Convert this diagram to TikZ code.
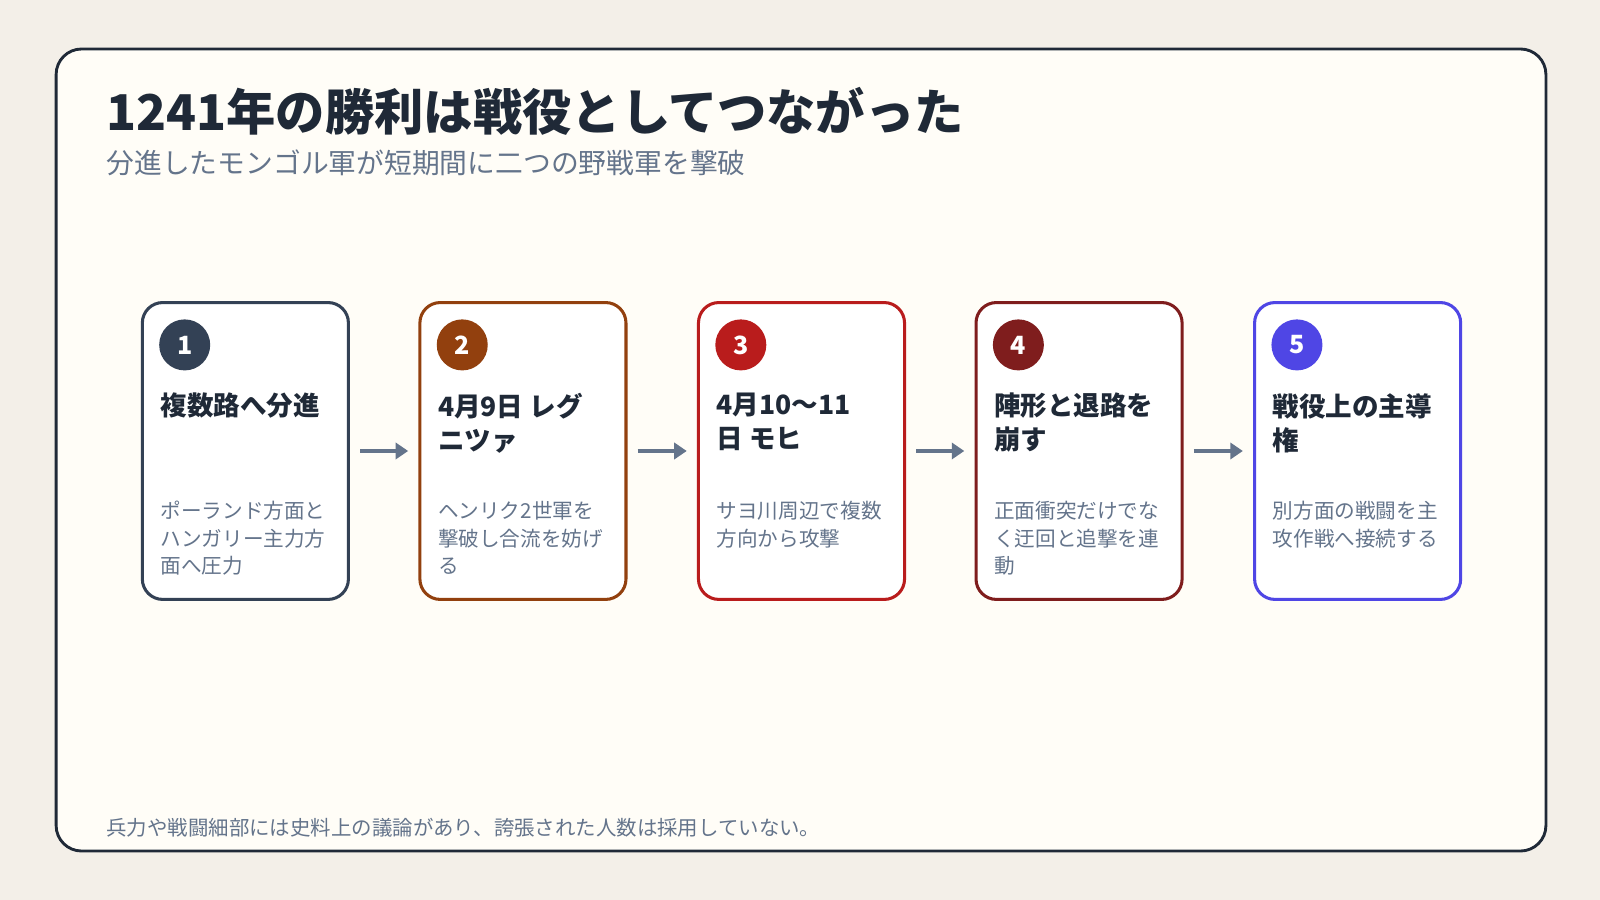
\documentclass[tikz,border=0pt]{standalone}
\usepackage{fontspec}
\setmainfont{Noto Sans CJK JP}
\usetikzlibrary{arrows.meta}
\usetikzlibrary{positioning}
\definecolor{pagebg}{HTML}{F3EFE8}
\definecolor{panelbg}{HTML}{FFFDF7}
\definecolor{ink}{HTML}{1F2937}
\definecolor{muted}{HTML}{64748B}
\definecolor{cslate}{HTML}{334155}
\definecolor{cbrown}{HTML}{92400E}
\definecolor{cred}{HTML}{B91C1C}
\definecolor{cdark}{HTML}{7F1D1D}
\definecolor{cindigo}{HTML}{4F46E5}
\tikzset{
  card/.style={draw=#1, line width=1.7pt, rounded corners=0.4cm, fill=white,
    minimum width=4.04cm, minimum height=5.82cm, anchor=north west, inner sep=0pt},
  badge/.style={circle, fill=#1, minimum size=1cm, inner sep=0pt, text=white,
    font=\fontsize{14}{14}\selectfont\bfseries},
  head/.style={anchor=north west, align=left, inner sep=0pt, text=ink,
    font=\fontsize{14.8}{19}\selectfont\bfseries},
  body/.style={anchor=north west, align=left, inner sep=0pt, text=muted,
    font=\fontsize{11.5}{15.3}\selectfont},
  flow/.style={-{Triangle[length=7pt,width=9pt]}, muted, line width=2.6pt}
}
\begin{document}
\begin{tikzpicture}[x=0.02cm, y=-0.02cm]
\useasboundingbox[fill=pagebg] (0,0) rectangle (1568,882);
\draw[ink, line width=1.6pt, fill=panelbg, rounded corners=0.5cm] (55,48) rectangle (1515,834);

\node[anchor=base west, inner sep=0pt, text=ink, font=\fontsize{27.5}{27.5}\selectfont\bfseries] (title) at (104,128) {1241年の勝利は戦役としてつながった};
\node[anchor=base west, inner sep=0pt, text=muted, font=\fontsize{15.5}{15.5}\selectfont] (subtitle) at (104,170) {分進したモンゴル軍が短期間に二つの野戦軍を撃破};

% cards
\node[card=cslate] (c1) at (138,295) {};
\node[badge=cslate] (b1) at (181,338) {1};
\node[head] (h1) at (157,385) {複数路へ分進};
\node[body] (t1) at (157,491) {ポーランド方面と\\ハンガリー主力方\\面へ圧力};

\node[card=cbrown] (c2) at (410,295) {};
\node[badge=cbrown] (b2) at (453,338) {2};
\node[head] (h2) at (429,385) {4月9日 レグ\\ニツァ};
\node[body] (t2) at (429,491) {ヘンリク2世軍を\\撃破し合流を妨げ\\る};

\node[card=cred] (c3) at (683,295) {};
\node[badge=cred] (b3) at (726,338) {3};
\node[head] (h3) at (702,385) {4月10〜11\\日 モヒ};
\node[body] (t3) at (702,491) {サヨ川周辺で複数\\方向から攻撃};

\node[card=cdark] (c4) at (955,295) {};
\node[badge=cdark] (b4) at (998,338) {4};
\node[head] (h4) at (974,385) {陣形と退路を\\崩す};
\node[body] (t4) at (974,491) {正面衝突だけでな\\く迂回と追撃を連\\動};

\node[card=cindigo] (c5) at (1228,295) {};
\node[badge=cindigo] (b5) at (1271,338) {5};
\node[head] (h5) at (1247,385) {戦役上の主導\\権};
\node[body] (t5) at (1247,491) {別方面の戦闘を主\\攻作戦へ接続する};

% arrows
\draw[flow] ([xshift=0.2cm]c1.east) -- ([xshift=-0.2cm]c2.west);
\draw[flow] ([xshift=0.2cm]c2.east) -- ([xshift=-0.2cm]c3.west);
\draw[flow] ([xshift=0.2cm]c3.east) -- ([xshift=-0.2cm]c4.west);
\draw[flow] ([xshift=0.2cm]c4.east) -- ([xshift=-0.2cm]c5.west);

\node[anchor=base west, inner sep=0pt, text=muted, font=\fontsize{11.4}{11.4}\selectfont] (note) at (104,819) {兵力や戦闘細部には史料上の議論があり、誇張された人数は採用していない。};
\end{tikzpicture}
\end{document}
